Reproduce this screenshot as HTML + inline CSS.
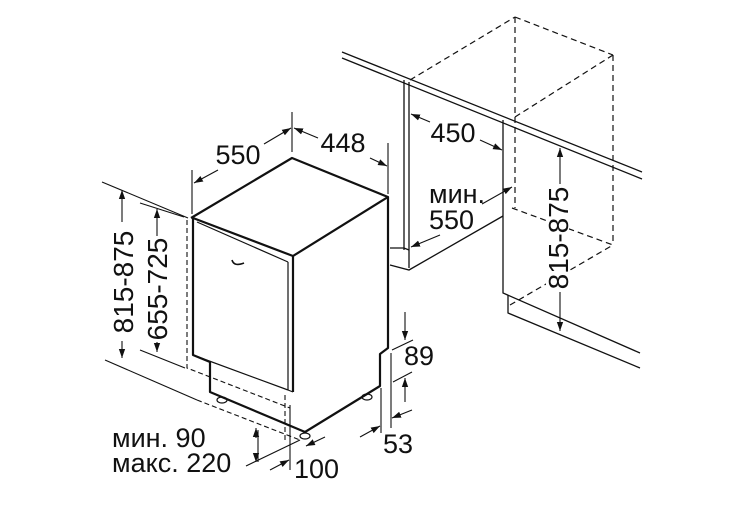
<!DOCTYPE html>
<html><head><meta charset="utf-8"><style>
html,body{margin:0;padding:0;background:#fff;}
svg{display:block}
text{font-family:"Liberation Sans",sans-serif;fill:#111;}
</style></head><body>
<svg width="754" height="519" viewBox="0 0 754 519" xmlns="http://www.w3.org/2000/svg">
<defs>
<marker id="a" viewBox="0 0 10 10" refX="10" refY="5" markerWidth="9" markerHeight="9" orient="auto-start-reverse" markerUnits="userSpaceOnUse"><path d="M0,1.5 L10,5 L0,8.5 z" fill="#111"/></marker>
</defs>
<g stroke="#111" fill="none" stroke-width="1.3">
<line x1="342" y1="52" x2="642" y2="172"/>
<line x1="342" y1="58" x2="642" y2="179"/>
<line x1="404" y1="80" x2="404" y2="250"/>
<line x1="409" y1="82" x2="409" y2="268"/>
<polyline points="390,248 404,248 409,250"/>
<polyline points="390,265 409,270 503,216"/>
<polyline points="503,120 503,293 640,353"/>
<polyline points="508,295 508,313 640,368"/>
</g>
<g stroke="#111" fill="none" stroke-width="1.2" stroke-dasharray="6,4">
<line x1="410" y1="80" x2="515" y2="17"/>
<line x1="515" y1="17" x2="613" y2="55"/>
<line x1="515" y1="17" x2="515" y2="208"/>
<line x1="613" y1="55" x2="613" y2="245"/>
<line x1="515" y1="117" x2="613" y2="55"/>
<line x1="512" y1="208" x2="613" y2="245"/>
<line x1="510" y1="305" x2="613" y2="245"/>
</g>
<g stroke="#111" fill="none" stroke-width="2.2" stroke-linejoin="round">
<polyline points="191,218 292,158 388,197 388,348 380,354 380,386 305,432 210,392 210,362 193,355 193,218"/>
<polyline points="193,218 293,256 388,197"/>
<line x1="293" y1="256" x2="293" y2="392"/>
</g>
<g stroke="#111" fill="none" stroke-width="1.2">
<line x1="197" y1="222" x2="288" y2="262"/>
<line x1="288" y1="262" x2="288" y2="390"/>
<line x1="193" y1="355" x2="288" y2="390"/>
<line x1="288" y1="390" x2="293" y2="392"/>
<path d="M232,260 q2,7 12,3" stroke-width="1.6"/>
<ellipse cx="222" cy="400" rx="5" ry="3"/>
<ellipse cx="305" cy="436" rx="5" ry="3"/>
<ellipse cx="367" cy="397" rx="5" ry="3"/>
</g>
<g stroke="#111" fill="none" stroke-width="1.1" stroke-dasharray="5,3">
<polyline points="187,220 187,368 290,408"/>
<line x1="285" y1="395" x2="285" y2="440"/>
<line x1="197" y1="400" x2="300" y2="440"/>
</g>
<g stroke="#111" fill="none" stroke-width="1.1">
<line x1="102" y1="182" x2="188" y2="218"/>
<line x1="105" y1="360" x2="197" y2="400"/>
<line x1="140" y1="203" x2="184" y2="217"/>
<line x1="140" y1="350" x2="185" y2="368"/>
<line x1="122" y1="222" x2="122" y2="190" marker-end="url(#a)"/>
<line x1="122" y1="341" x2="122" y2="358" marker-end="url(#a)"/>
<line x1="157" y1="236" x2="157" y2="209" marker-end="url(#a)"/>
<line x1="157" y1="342" x2="157" y2="352" marker-end="url(#a)"/>
<line x1="192" y1="170" x2="192" y2="214"/>
<line x1="292" y1="112" x2="292" y2="152"/>
<line x1="388" y1="143" x2="388" y2="194"/>
<line x1="218" y1="170" x2="194" y2="183" marker-end="url(#a)"/>
<line x1="264" y1="144" x2="291" y2="128" marker-end="url(#a)"/>
<line x1="318" y1="138" x2="294" y2="128" marker-end="url(#a)"/>
<line x1="370" y1="158" x2="387" y2="166" marker-end="url(#a)"/>
<line x1="430" y1="122" x2="411" y2="114" marker-end="url(#a)"/>
<line x1="480" y1="140" x2="502" y2="150" marker-end="url(#a)"/>
<line x1="482" y1="204" x2="512" y2="187" marker-end="url(#a)"/>
<line x1="440" y1="235" x2="411" y2="247" marker-end="url(#a)"/>
<line x1="560" y1="184" x2="560" y2="148" marker-end="url(#a)"/>
<line x1="560" y1="292" x2="560" y2="331" marker-end="url(#a)"/>
<line x1="391" y1="353" x2="391" y2="428"/>
<line x1="381" y1="388" x2="381" y2="433"/>
<line x1="405" y1="312" x2="405" y2="340" marker-end="url(#a)"/>
<line x1="392" y1="350" x2="413" y2="340"/>
<line x1="393" y1="382" x2="412" y2="372"/>
<line x1="405" y1="402" x2="405" y2="378" marker-end="url(#a)"/>
<line x1="412" y1="410" x2="392" y2="418" marker-end="url(#a)"/>
<line x1="360" y1="437" x2="380" y2="426" marker-end="url(#a)"/>
<line x1="258" y1="430" x2="258" y2="462"/>
<line x1="246" y1="466" x2="300" y2="440"/>
<line x1="256" y1="438" x2="256" y2="428" marker-end="url(#a)"/>
<line x1="256" y1="455" x2="256" y2="462" marker-end="url(#a)"/>
<line x1="290" y1="405" x2="290" y2="470"/>
<line x1="270" y1="470" x2="289" y2="460" marker-end="url(#a)"/>
<line x1="325" y1="437" x2="306" y2="446" marker-end="url(#a)"/>
</g>
<rect x="546" y="187" width="23" height="102" fill="#fff"/>
<g font-size="27">
<text x="238" y="164" text-anchor="middle">550</text>
<text x="343" y="152" text-anchor="middle">448</text>
<text x="453" y="142" text-anchor="middle">450</text>
<text x="429" y="203">мин.</text>
<text x="429" y="229">550</text>
<text x="404" y="365">89</text>
<text x="383" y="453">53</text>
<text x="112" y="447">мин. 90</text>
<text x="112" y="472">макс. 220</text>
<text x="294" y="478">100</text>
</g>
<g font-size="28">
<text transform="translate(133,282) rotate(-90)" text-anchor="middle">815-875</text>
<text transform="translate(167,289) rotate(-90)" text-anchor="middle">655-725</text>
<text transform="translate(568,238) rotate(-90)" text-anchor="middle">815-875</text>
</g>
</svg>
</body></html>
